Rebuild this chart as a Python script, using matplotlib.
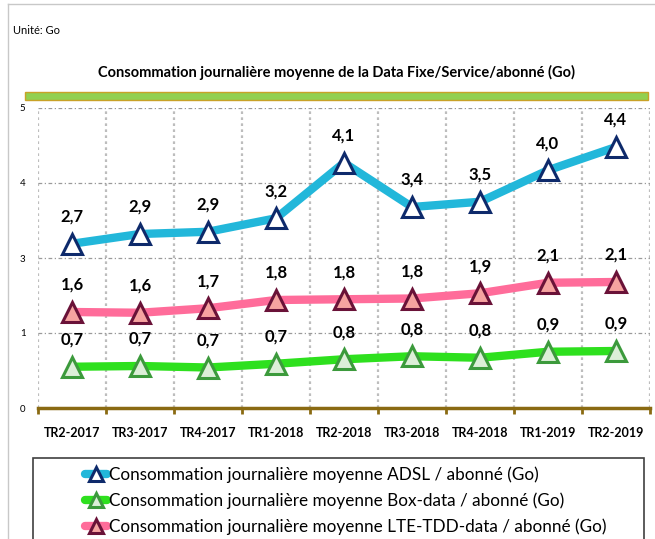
import matplotlib
matplotlib.use("Agg")
import matplotlib.pyplot as plt
from matplotlib.patches import Rectangle
from matplotlib.lines import Line2D

plt.rcParams['font.family'] = ['Lato', 'DejaVu Sans']

# Data
categories = ['TR2-2017', 'TR3-2017', 'TR4-2017', 'TR1-2018', 'TR2-2018',
              'TR3-2018', 'TR4-2018', 'TR1-2019', 'TR2-2019']

# values shown in the data labels
adsl_labels = [2.7, 2.9, 2.9, 3.2, 4.1, 3.4, 3.5, 4.0, 4.4]
box_labels = [0.7, 0.7, 0.7, 0.7, 0.8, 0.8, 0.8, 0.9, 0.9]
lte_labels = [1.6, 1.6, 1.7, 1.8, 1.8, 1.8, 1.9, 2.1, 2.1]

# marker heights as drawn on the (irregular) axis, gridline units
adsl_pos = [2.19, 2.32, 2.35, 2.53, 3.27, 2.68, 2.75, 3.17, 3.48]
box_pos = [0.55, 0.56, 0.54, 0.59, 0.65, 0.69, 0.67, 0.75, 0.76]
lte_pos = [1.28, 1.27, 1.33, 1.44, 1.45, 1.46, 1.53, 1.67, 1.68]

ytick_labels = ['0', '1', '3', '4', '5']

series = [
    ("Consommation journalière moyenne ADSL / abonné (Go)", adsl_pos, adsl_labels,
     '#22B7DA', 'white', '#0E2A6B'),
    ("Consommation journalière moyenne Box-data / abonné (Go)", box_pos, box_labels,
     '#2EE01E', '#DCEFD8', '#3C9A3C'),
    ("Consommation journalière moyenne LTE-TDD-data / abonné (Go)", lte_pos, lte_labels,
     '#FF6C9A', '#F6A3A0', '#6A1238'),
]

W, H = 655, 539
fig = plt.figure(figsize=(W / 100, H / 100), dpi=100)


def fx(px):
    return px / W


def fy(py):
    return 1 - py / H


ax = fig.add_axes([fx(38), fy(408), fx(650) - fx(38), fy(108) - fy(408)])

x = list(range(len(categories)))
handles = []
for name, pos, labels, lc, fc, ec in series:
    ln, = ax.plot(x, pos, color=lc, lw=6, marker='^', markersize=14,
                  markerfacecolor=fc, markeredgecolor=ec, markeredgewidth=2.2,
                  solid_capstyle='round', zorder=3, label=name)
    handles.append(ln)
    for xi, p, v in zip(x, pos, labels):
        ax.annotate(f"{v:.1f}".replace('.', ','), (xi, p), xytext=(0, 19.5),
                    textcoords='offset points', ha='center', va='center',
                    fontsize=12, fontweight='bold', color='black', zorder=4)

ax.set_xlim(-0.5, len(categories) - 0.5)
ax.set_ylim(0, 4)
ax.set_xticks(x)
ax.set_xticklabels(categories, fontsize=9, fontweight='bold')
ax.set_xticks([i - 0.5 for i in range(len(categories) + 1)], minor=True)
ax.tick_params(axis='x', which='major', length=0, pad=14)
ax.tick_params(axis='x', which='minor', length=4, width=2, color='#8A6A12', direction='out')
ax.set_yticks(range(5))
ax.set_yticklabels(ytick_labels, fontsize=7)
ax.tick_params(axis='y', length=0, pad=9)

ax.grid(axis='x', which='minor', color='#BDBDBD', linestyle=(0, (1.2, 1.5)), lw=1.6)
ax.grid(axis='x', which='major', visible=False)
ax.grid(axis='y', which='major', color='#9A9A9A', linestyle=(0, (3, 2, 1, 2)), lw=0.9)
ax.set_axisbelow(True)

for s in ['left', 'right', 'top']:
    ax.spines[s].set_visible(False)
ax.spines['bottom'].set_color('#8A6A12')
ax.spines['bottom'].set_linewidth(2.5)
ax.spines['bottom'].set_zorder(5)

# outer frame
fig.add_artist(Line2D([fx(8), fx(8)], [fy(4), 0], color='#C8C8C8', lw=1))
fig.add_artist(Line2D([fx(8), 1], [fy(4), fy(4)], color='#C8C8C8', lw=1))

fig.text(fx(13), fy(30), "Unité: Go", fontsize=8, ha='left', va='center')
fig.text(fx(336), fy(72), "Consommation journalière moyenne de la Data Fixe/Service/abonné (Go)",
         fontsize=10.5, fontweight='bold', ha='center', va='center')

# green band under the title
fig.add_artist(Rectangle((fx(25), fy(100)), fx(648) - fx(25), fy(92) - fy(100),
                         facecolor='#92D050', edgecolor='#C9A227', lw=1))

# legend box
fig.add_artist(Rectangle((fx(33), fy(545)), fx(644) - fx(33), fy(458) - fy(545),
                         facecolor='white', edgecolor='#404040', lw=1.2, clip_on=False))
leg = fig.legend(handles=handles, loc='upper left', bbox_to_anchor=(fx(80), fy(461)),
                 frameon=False, fontsize=12.3, handlelength=1.3, handletextpad=0.1,
                 labelspacing=0.55, borderaxespad=0, borderpad=0.3)
for h in leg.legend_handles:
    h.set_markersize(10)
    h.set_linewidth(6)

fig.savefig("out.png", dpi=100)
